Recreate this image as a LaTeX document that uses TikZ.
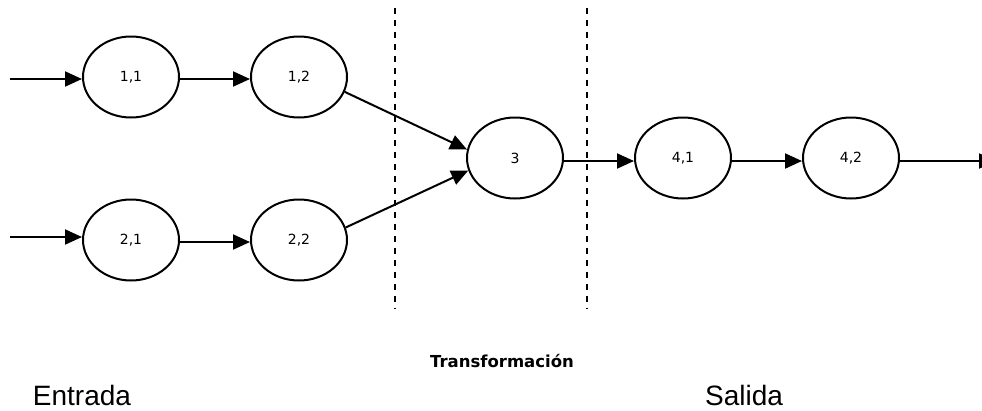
\documentclass[tikz,border=0pt]{standalone}
\usepackage{fontspec}
\setmainfont{Liberation Sans}
\newfontfamily\labelfont{DejaVu Sans}
\usetikzlibrary{shapes.geometric,arrows.meta}
\begin{document}
\begin{tikzpicture}[x=1pt,y=-1pt,
  proc/.style={draw,ellipse,line width=2pt,minimum width=96pt,minimum height=81pt,
    inner sep=0pt,font=\labelfont\fontsize{14}{16}\selectfont},
  flow/.style={line width=2pt,-{Triangle[length=17pt,width=15pt]}},
  divider/.style={line width=2pt,dash pattern=on 6pt off 6pt}]
\useasboundingbox (0,0) rectangle (982,410);

% processes
\node[proc] (n11) at (131,77) {1,1};
\node[proc] (n12) at (299,77) {1,2};
\node[proc] (n21) at (131,240) {2,1};
\node[proc] (n22) at (299,240) {2,2};
\node[proc] (n3)  at (515,158) {3};
\node[proc] (n41) at (683,158) {4,1};
\node[proc] (n42) at (851,158) {4,2};

% free ends
\coordinate (in1) at (10,79);
\coordinate (in2) at (10,237);
\coordinate (out) at (996,161);

% flows
\draw[flow] (in1) -- (n11.west |- in1);
\draw[flow] (n11.east |- in1) -- (n12.west |- in1);
\draw[flow] (in2) -- (n21.west |- in2);
\draw[flow] ([yshift=-2pt]n21.east) -- ([yshift=-2pt]n22.west);
\draw[flow] (n12.-18) -- (n3.170);
\draw[flow] (n22.15) -- (n3.195);
\draw[flow] ([yshift=-3pt]n3.east) -- ([yshift=-3pt]n41.west);
\draw[flow] ([yshift=-3pt]n41.east) -- ([yshift=-3pt]n42.west);
\draw[flow] ([yshift=-3pt]n42.east) -- (out);

% stage boundaries
\coordinate (d1t) at (395,8);
\coordinate (d1b) at (395,309);
\coordinate (d2t) at (587,8);
\coordinate (d2b) at (587,309);
\draw[divider] (d1t) -- (d1b);
\draw[divider] (d2t) -- (d2b);

% stage labels
\node[font=\labelfont\bfseries\fontsize{16.5}{18}\selectfont,anchor=base] (tr) at (502,367) {Transformación};
\node[font=\fontsize{28}{32}\selectfont,anchor=base] (en) at (82,405) {Entrada};
\node[font=\fontsize{28}{32}\selectfont,anchor=base] (sa) at (744,405) {Salida};
\end{tikzpicture}
\end{document}
